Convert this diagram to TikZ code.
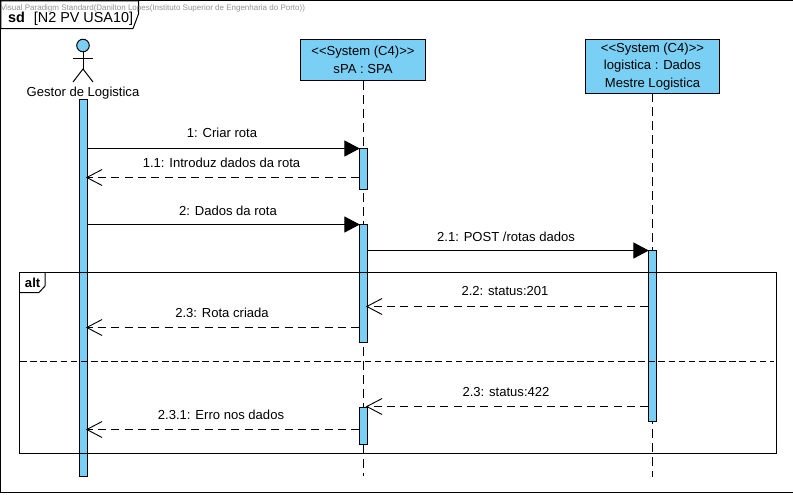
\documentclass[tikz,border=0pt]{standalone}
\usepackage{fontspec}
\setmainfont{Liberation Sans}
\usetikzlibrary{arrows.meta}
\definecolor{vpblue}{HTML}{7ACFF5}
\tikzset{
  x=0.75pt,y=-0.75pt,
  every node/.style={font=\fontsize{9.8}{12}\selectfont,inner sep=0pt,outer sep=0pt},
  line/.style={line width=0.75pt,black},
  headbox/.style={draw=black,line width=0.8pt,fill=vpblue,align=center,font=\fontsize{9.8}{13.2}\selectfont},
  activation/.style={draw=black,line width=0.75pt,fill=vpblue,minimum width=6.4pt},
  lifeline/.style={line width=0.75pt,dash pattern=on 6.5pt off 4pt},
  callmsg/.style={line,-{Triangle[length=11.5pt,width=12pt]},shorten >=-0.4pt},
  replymsg/.style={line,dash pattern=on 6pt off 4pt,shorten >=-1.5pt,-{Straight Barb[length=11.5pt,width=12pt,line width=0.7pt]}},
  msglabel/.style={anchor=base},
}
\begin{document}
\begin{tikzpicture}
\useasboundingbox (0,0) rectangle (793,494);
\fill[white] (0,0) rectangle (793,494);
% outer frame
\node[draw=black,line width=0.8pt,minimum width=594.2pt,minimum height=368.6pt,anchor=north west] (frame) at (0.8,0.8) {};
\draw[line,fill=white] (0.8,0.8) -- (138.5,0.8) -- (138.5,14) -- (133,28.5) -- (0.8,28.5) -- cycle;
\node[anchor=base west,font=\fontsize{10.8}{12}\selectfont] (title) at (8,22) {\textbf{sd}\hspace{6.8pt}[N2 PV USA10]};
\node[anchor=base west,font=\fontsize{6}{7}\selectfont,text=gray!85] (wm) at (1,10) {Visual Paradigm Standard(Danilton Lopes(Instituto Superior de Engenharia do Porto))};
% actor
\node[circle,draw=black,line width=0.75pt,fill=vpblue,minimum size=9.4pt] (head) at (83,45.5) {};
\coordinate (hip) at (83,69);
\coordinate (armL) at (73,58.5);
\coordinate (armR) at (93,58.5);
\coordinate (legL) at (73,82);
\coordinate (legR) at (93,82);
\draw[line] (head.south) -- (hip);
\draw[line] (armL) -- (armR);
\draw[line] (legL) -- (hip) -- (legR);
\node[anchor=base] (actor) at (83,96) {Gestor de Logistica};
% heads
\node[headbox,minimum width=93.6pt,minimum height=31.4pt] (spa) at (363,60) {\raisebox{-0.7pt}{<{}<System (C4)>{}>}\\\raisebox{-0.7pt}{sPA : SPA}};
\node[headbox,minimum width=101pt,minimum height=40.4pt] (log) at (652.5,66.5) {\raisebox{-1.1pt}{<{}<System (C4)>{}>}\\\raisebox{-1.1pt}{logistica : Dados}\\\raisebox{-1.1pt}{Mestre Logistica}};
% lifelines
\coordinate (spaEnd) at (363.5,476);
\coordinate (logEnd) at (652.5,477);
\draw[lifeline] (spa.south -| spaEnd) -- (spaEnd);
\draw[lifeline] (log.south) -- (logEnd);
% activations
\node[activation,minimum height=282.8pt,anchor=north] (a0) at (83.5,99.5) {};
\node[activation,minimum height=30.8pt,anchor=north] (a1) at (363.5,148.5) {};
\node[activation,minimum height=88.5pt,anchor=north] (a2) at (363.5,224.5) {};
\node[activation,minimum height=27.8pt,anchor=north] (a3) at (363.5,407.5) {};
\node[activation,minimum height=128.3pt,anchor=north] (a4) at (652.5,250.5) {};
% message ends
\coordinate (y1) at (0,148.5);
\coordinate (y11) at (0,177.5);
\coordinate (y2) at (0,224.5);
\coordinate (y21) at (0,250.5);
\coordinate (y22) at (0,306.5);
\coordinate (y23) at (0,327.5);
\coordinate (y23b) at (0,406.5);
\coordinate (y231) at (0,429.5);
% messages
\draw[callmsg] (a0.east |- y1) -- (a1.west |- y1);
\draw[replymsg] (a1.west |- y11) -- (a0.east |- y11);
\draw[callmsg] (a0.east |- y2) -- (a2.west |- y2);
\draw[callmsg] (a2.east |- y21) -- (a4.west |- y21);
\draw[replymsg] (a4.west |- y22) -- (a2.east |- y22);
\draw[replymsg] (a2.west |- y23) -- (a0.east |- y23);
\draw[replymsg] (a4.west |- y23b) -- (a3.east |- y23b);
\draw[replymsg] (a3.west |- y231) -- (a0.east |- y231);
% labels
\node[msglabel] (l1) at (222,137.5) {1: Criar rota};
\node[msglabel] (l11) at (221.5,167.5) {1.1: Introduz dados da rota};
\node[msglabel] (l2) at (228,215.5) {2: Dados da rota};
\node[msglabel] (l21) at (506,241.5) {2.1: POST /rotas dados};
\node[msglabel] (l22) at (505,295.5) {2.2: status:201};
\node[msglabel] (l23) at (222,317.5) {2.3: Rota criada};
\node[msglabel] (l23b) at (506,396.5) {2.3: status:422};
\node[msglabel] (l231) at (221,419.5) {2.3.1: Erro nos dados};
% alt fragment
\node[draw=black,line width=0.75pt,minimum width=567.6pt,minimum height=135.6pt,anchor=north west] (alt) at (19.5,272.5) {};
\draw[line] (19.5,292.5) -- (39,292.5) -- (45,286) -- (45,272.5);
\node[anchor=base west,font=\fontsize{9.8}{12}\selectfont\bfseries] (altl) at (25,287) {alt};
\coordinate (sepL) at (20,361.5);
\coordinate (sepR) at (774,361.5);
\draw[line,dash pattern=on 5pt off 2.6pt] (sepL) -- (sepR);
\end{tikzpicture}
\end{document}
